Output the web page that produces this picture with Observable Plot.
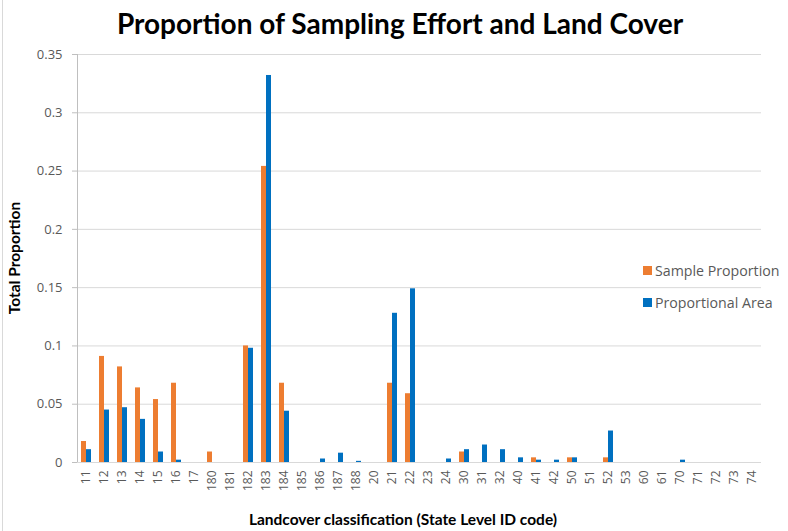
<!DOCTYPE html>
<html>
<head>
<meta charset="utf-8">
<script src="https://cdn.jsdelivr.net/npm/d3@7"></script>
<script src="https://cdn.jsdelivr.net/npm/@observablehq/plot@0.6"></script>
<style>
  html, body { margin: 0; padding: 0; background: #fff; }
  #page { position: relative; width: 788px; height: 531px; overflow: hidden; background: #fff; }
  #border { position: absolute; left: 2px; top: 0; width: 1px; height: 531px; background: #d9d9d9; }
  #title { position: absolute; left: 0; top: 0; width: 800px; height: 46px; text-align: center;
           font: bold 28px Lato, "Liberation Sans", sans-serif; line-height: 46px; color: #000; }
  #chart { position: absolute; left: 0; top: 46px; }
  #ytitle { position: absolute; left: 14px; top: 258px; transform: translate(-50%, -50%) rotate(-90deg);
            font: bold 15.5px Lato, sans-serif; color: #000; white-space: nowrap; }
  #xtitle { position: absolute; left: 403px; top: 519px; transform: translate(-50%, -50%);
            font: bold 15.5px Lato, sans-serif; color: #000; white-space: nowrap; }
  #legend { position: absolute; left: 643px; top: 254px; width: 145px;
            font: 14.2px "Open Sans", sans-serif; color: #595959; white-space: nowrap; }
  .item { height: 32px; display: flex; align-items: center; }
  .sw { width: 9px; height: 9px; margin-right: 3px; flex: none; }
</style>
</head>
<body>
<div id="page">
  <div id="border"></div>
  <div id="title">Proportion of Sampling Effort and Land Cover</div>
  <div id="chart"></div>
  <div id="ytitle">Total Proportion</div>
  <div id="xtitle">Landcover classification (State Level ID code)</div>
  <div id="legend"></div>
</div>
<script>
const categories = ["11","12","13","14","15","16","17","180","181","182","183","184","185","186","187","188","20","21","22","23","24","30","31","32","40","41","42","50","51","52","53","60","61","70","71","72","73","74"];
const sampleProportion = [0.018,0.091,0.082,0.064,0.054,0.068,0,0.009,0,0.100,0.254,0.068,0,0,0,0,0,0.068,0.059,0,0,0.009,0,0,0,0.004,0,0.004,0,0.004,0,0,0,0,0,0,0,0];
const proportionalArea = [0.011,0.045,0.047,0.037,0.009,0.002,0,0,0,0.098,0.332,0.044,0,0.003,0.008,0.001,0,0.128,0.149,0,0.003,0.011,0.015,0.011,0.004,0.002,0.002,0.004,0,0.027,0,0,0,0.002,0,0,0,0];
const seriesNames = ["Sample Proportion","Proportional Area"];
const seriesColors = ["#ED7D31","#0070C0"];
const yTicks = [0,0.05,0.1,0.15,0.2,0.25,0.3,0.35];

const data = categories.flatMap((c, i) => [
  {cat: c, series: seriesNames[0], value: sampleProportion[i]},
  {cat: c, series: seriesNames[1], value: proportionalArea[i]}
]);

const chart = Plot.plot({
  width: 788,
  height: 485,
  marginTop: 8,
  marginBottom: 69,
  marginLeft: 62,
  marginRight: 13,
  style: {fontFamily: "'Open Sans', sans-serif", fontSize: "12px", color: "#595959", background: "transparent"},
  fx: {domain: categories, padding: 0, label: null},
  x: {domain: seriesNames, axis: null, paddingInner: 0, paddingOuter: 0.68},
  y: {domain: [0, 0.35], label: null},
  color: {domain: seriesNames, range: seriesColors},
  marks: [
    Plot.gridY(yTicks, {stroke: "#d9d9d9", strokeOpacity: 1}),
    Plot.axisY(yTicks, {tickSize: 5, tickPadding: 10, stroke: "#bfbfbf", fill: "#595959", fontSize: 13,
      tickFormat: d => String(+d.toFixed(2)), label: null}),
    Plot.axisFx({anchor: "bottom", tickRotate: -90, tickSize: 0, tickPadding: 8, fill: "#595959", fontSize: 12, label: null}),
    Plot.frame({anchor: "left", stroke: "#bfbfbf", facetAnchor: "left"}),
    Plot.barY(data, {fx: "cat", x: "series", y: "value", fill: "series"}),
    Plot.ruleY([0], {stroke: "#d9d9d9"})
  ]
});
document.getElementById("chart").appendChild(chart);

const legend = document.getElementById("legend");
seriesNames.forEach((name, i) => {
  const item = document.createElement("div");
  item.className = "item";
  const sw = document.createElement("span");
  sw.className = "sw";
  sw.style.background = seriesColors[i];
  const t = document.createElement("span");
  t.textContent = name;
  item.appendChild(sw);
  item.appendChild(t);
  legend.appendChild(item);
});
</script>
</body>
</html>
